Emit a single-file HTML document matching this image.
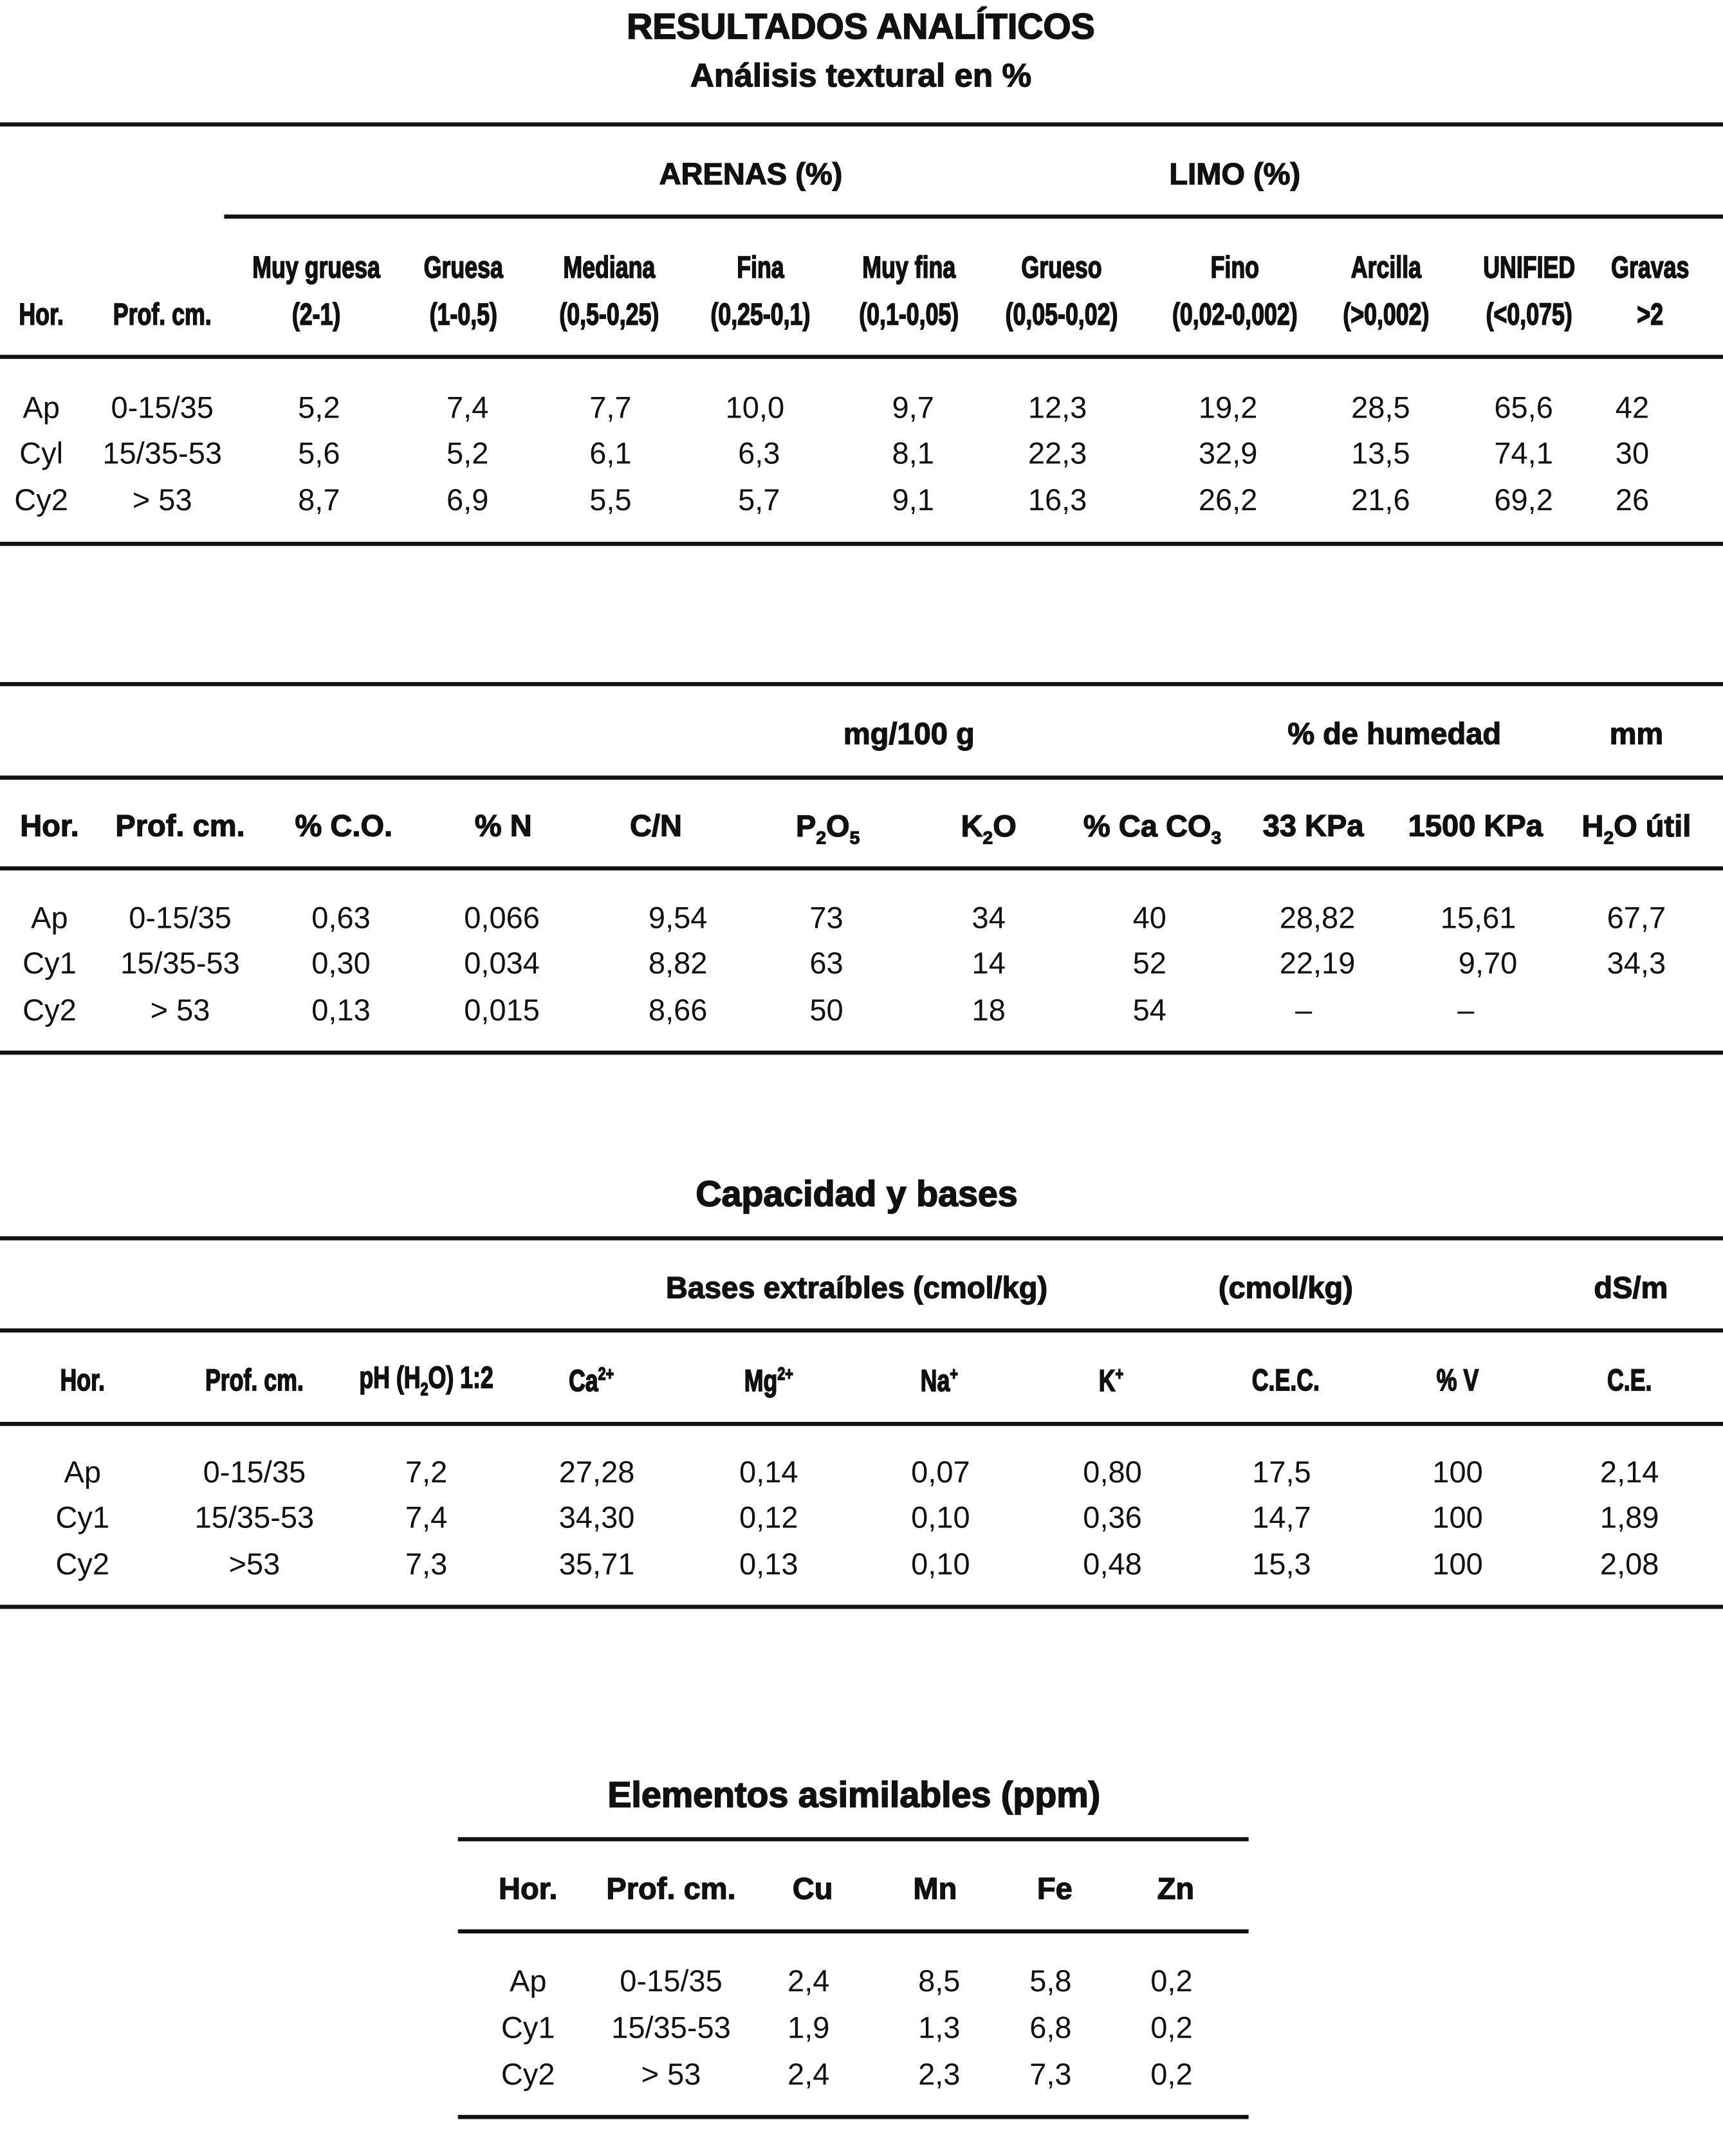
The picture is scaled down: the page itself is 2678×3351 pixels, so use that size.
<!DOCTYPE html>
<html><head><meta charset="utf-8"><style>
html,body{margin:0;padding:0;background:#fff;}
body{width:2678px;height:3350px;overflow:hidden;position:relative;}
#w{position:absolute;left:0;top:0;width:1253px;height:1568px;transform:scale(2.1373);transform-origin:0 0;font-family:"Liberation Sans",sans-serif;color:#111;}
.t{position:absolute;white-space:nowrap;transform:translate(-50%,-50%);line-height:1;}
.d{font-size:22px;}
.h{font-size:22px;font-weight:bold;-webkit-text-stroke:0.6px #111;}
.n{font-size:22px;font-weight:bold;transform:translate(-50%,-50%) scaleX(0.76);-webkit-text-stroke:0.8px #111;}
.ti{font-size:26px;font-weight:bold;-webkit-text-stroke:0.8px #111;}
.l{position:absolute;height:2.5px;background:#111;}
sub,sup{font-size:60%;}
</style></head><body><div id="w">
<div class="t ti" style="left:626px;top:19px">RESULTADOS ANALÍTICOS</div>
<div class="t h" style="left:626px;top:56px;font-size:24px">Análisis textural en %</div>
<div class="l" style="left:0;width:1253px;top:89px"></div>
<div class="t h" style="left:546px;top:127px">ARENAS (%)</div>
<div class="t h" style="left:898px;top:127px">LIMO (%)</div>
<div class="l" style="left:163px;width:1090px;top:156px"></div>
<div class="t n" style="left:230px;top:195px">Muy gruesa</div>
<div class="t n" style="left:337px;top:195px">Gruesa</div>
<div class="t n" style="left:443px;top:195px">Mediana</div>
<div class="t n" style="left:553px;top:195px">Fina</div>
<div class="t n" style="left:661px;top:195px">Muy fina</div>
<div class="t n" style="left:772px;top:195px">Grueso</div>
<div class="t n" style="left:898px;top:195px">Fino</div>
<div class="t n" style="left:1008px;top:195px">Arcilla</div>
<div class="t n" style="left:1112px;top:195px">UNIFIED</div>
<div class="t n" style="left:1200px;top:195px">Gravas</div>
<div class="t n" style="left:30px;top:229px">Hor.</div>
<div class="t n" style="left:118px;top:229px">Prof. cm.</div>
<div class="t n" style="left:230px;top:229px">(2-1)</div>
<div class="t n" style="left:337px;top:229px">(1-0,5)</div>
<div class="t n" style="left:443px;top:229px">(0,5-0,25)</div>
<div class="t n" style="left:553px;top:229px">(0,25-0,1)</div>
<div class="t n" style="left:661px;top:229px">(0,1-0,05)</div>
<div class="t n" style="left:772px;top:229px">(0,05-0,02)</div>
<div class="t n" style="left:898px;top:229px">(0,02-0,002)</div>
<div class="t n" style="left:1008px;top:229px">(&gt;0,002)</div>
<div class="t n" style="left:1112px;top:229px">(&lt;0,075)</div>
<div class="t n" style="left:1200px;top:229px">&gt;2</div>
<div class="l" style="left:0;width:1253px;top:258px"></div>
<div class="t d" style="left:30px;top:297px">Ap</div><div class="t d" style="left:118px;top:297px">0-15/35</div><div class="t d" style="left:232px;top:297px">5,2</div><div class="t d" style="left:340px;top:297px">7,4</div><div class="t d" style="left:444px;top:297px">7,7</div><div class="t d" style="left:549px;top:297px">10,0</div><div class="t d" style="left:664px;top:297px">9,7</div><div class="t d" style="left:769px;top:297px">12,3</div><div class="t d" style="left:893px;top:297px">19,2</div><div class="t d" style="left:1004px;top:297px">28,5</div><div class="t d" style="left:1108px;top:297px">65,6</div><div class="t d" style="left:1187px;top:297px">42</div>
<div class="t d" style="left:30px;top:330px">Cyl</div><div class="t d" style="left:118px;top:330px">15/35-53</div><div class="t d" style="left:232px;top:330px">5,6</div><div class="t d" style="left:340px;top:330px">5,2</div><div class="t d" style="left:444px;top:330px">6,1</div><div class="t d" style="left:552px;top:330px">6,3</div><div class="t d" style="left:664px;top:330px">8,1</div><div class="t d" style="left:769px;top:330px">22,3</div><div class="t d" style="left:893px;top:330px">32,9</div><div class="t d" style="left:1004px;top:330px">13,5</div><div class="t d" style="left:1108px;top:330px">74,1</div><div class="t d" style="left:1187px;top:330px">30</div>
<div class="t d" style="left:30px;top:364px">Cy2</div><div class="t d" style="left:118px;top:364px">&gt; 53</div><div class="t d" style="left:232px;top:364px">8,7</div><div class="t d" style="left:340px;top:364px">6,9</div><div class="t d" style="left:444px;top:364px">5,5</div><div class="t d" style="left:552px;top:364px">5,7</div><div class="t d" style="left:664px;top:364px">9,1</div><div class="t d" style="left:769px;top:364px">16,3</div><div class="t d" style="left:893px;top:364px">26,2</div><div class="t d" style="left:1004px;top:364px">21,6</div><div class="t d" style="left:1108px;top:364px">69,2</div><div class="t d" style="left:1187px;top:364px">26</div>
<div class="l" style="left:0;width:1253px;top:394px"></div>

<div class="l" style="left:0;width:1253px;top:496px"></div>
<div class="t h" style="left:661px;top:534px">mg/100 g</div>
<div class="t h" style="left:1014px;top:534px">% de humedad</div>
<div class="t h" style="left:1190px;top:534px">mm</div>
<div class="l" style="left:0;width:1253px;top:564px"></div>
<div class="t h" style="left:36px;top:601px">Hor.</div><div class="t h" style="left:131px;top:601px">Prof. cm.</div><div class="t h" style="left:250px;top:601px">% C.O.</div><div class="t h" style="left:366px;top:601px">% N</div><div class="t h" style="left:477px;top:601px">C/N</div><div class="t h" style="left:602px;top:603px">P<sub>2</sub>O<sub>5</sub></div><div class="t h" style="left:719px;top:603px">K<sub>2</sub>O</div><div class="t h" style="left:838px;top:603px">% Ca CO<sub>3</sub></div><div class="t h" style="left:955px;top:601px">33 KPa</div><div class="t h" style="left:1073px;top:601px">1500 KPa</div><div class="t h" style="left:1190px;top:603px">H<sub>2</sub>O útil</div>
<div class="l" style="left:0;width:1253px;top:630px"></div>
<div class="t d" style="left:36px;top:668px">Ap</div><div class="t d" style="left:131px;top:668px">0-15/35</div><div class="t d" style="left:248px;top:668px">0,63</div><div class="t d" style="left:365px;top:668px">0,066</div><div class="t d" style="left:493px;top:668px">9,54</div><div class="t d" style="left:601px;top:668px">73</div><div class="t d" style="left:719px;top:668px">34</div><div class="t d" style="left:836px;top:668px">40</div><div class="t d" style="left:958px;top:668px">28,82</div><div class="t d" style="left:1075px;top:668px">15,61</div><div class="t d" style="left:1190px;top:668px">67,7</div>
<div class="t d" style="left:36px;top:701px">Cy1</div><div class="t d" style="left:131px;top:701px">15/35-53</div><div class="t d" style="left:248px;top:701px">0,30</div><div class="t d" style="left:365px;top:701px">0,034</div><div class="t d" style="left:493px;top:701px">8,82</div><div class="t d" style="left:601px;top:701px">63</div><div class="t d" style="left:719px;top:701px">14</div><div class="t d" style="left:836px;top:701px">52</div><div class="t d" style="left:958px;top:701px">22,19</div><div class="t d" style="left:1082px;top:701px">9,70</div><div class="t d" style="left:1190px;top:701px">34,3</div>
<div class="t d" style="left:36px;top:735px">Cy2</div><div class="t d" style="left:131px;top:735px">&gt; 53</div><div class="t d" style="left:248px;top:735px">0,13</div><div class="t d" style="left:365px;top:735px">0,015</div><div class="t d" style="left:493px;top:735px">8,66</div><div class="t d" style="left:601px;top:735px">50</div><div class="t d" style="left:719px;top:735px">18</div><div class="t d" style="left:836px;top:735px">54</div><div class="t d" style="left:948px;top:735px">–</div><div class="t d" style="left:1066px;top:735px">–</div>
<div class="l" style="left:0;width:1253px;top:764px"></div>

<div class="t ti" style="left:623px;top:868px">Capacidad y bases</div>
<div class="l" style="left:0;width:1253px;top:899px"></div>
<div class="t h" style="left:623px;top:937px">Bases extraíbles (cmol/kg)</div>
<div class="t h" style="left:935px;top:937px">(cmol/kg)</div>
<div class="t h" style="left:1186px;top:937px">dS/m</div>
<div class="l" style="left:0;width:1253px;top:966px"></div>
<div class="t n" style="left:60px;top:1004px">Hor.</div><div class="t n" style="left:185px;top:1004px">Prof. cm.</div><div class="t n" style="left:310px;top:1004px">pH (H<sub>2</sub>O) 1:2</div><div class="t n" style="left:430px;top:1004px">Ca<sup>2+</sup></div><div class="t n" style="left:559px;top:1004px">Mg<sup>2+</sup></div><div class="t n" style="left:683px;top:1004px">Na<sup>+</sup></div><div class="t n" style="left:808px;top:1004px">K<sup>+</sup></div><div class="t n" style="left:935px;top:1004px">C.E.C.</div><div class="t n" style="left:1060px;top:1004px">% V</div><div class="t n" style="left:1185px;top:1004px">C.E.</div>
<div class="l" style="left:0;width:1253px;top:1034px"></div>
<div class="t d" style="left:60px;top:1071px">Ap</div><div class="t d" style="left:185px;top:1071px">0-15/35</div><div class="t d" style="left:310px;top:1071px">7,2</div><div class="t d" style="left:434px;top:1071px">27,28</div><div class="t d" style="left:559px;top:1071px">0,14</div><div class="t d" style="left:684px;top:1071px">0,07</div><div class="t d" style="left:809px;top:1071px">0,80</div><div class="t d" style="left:932px;top:1071px">17,5</div><div class="t d" style="left:1060px;top:1071px">100</div><div class="t d" style="left:1185px;top:1071px">2,14</div>
<div class="t d" style="left:60px;top:1104px">Cy1</div><div class="t d" style="left:185px;top:1104px">15/35-53</div><div class="t d" style="left:310px;top:1104px">7,4</div><div class="t d" style="left:434px;top:1104px">34,30</div><div class="t d" style="left:559px;top:1104px">0,12</div><div class="t d" style="left:684px;top:1104px">0,10</div><div class="t d" style="left:809px;top:1104px">0,36</div><div class="t d" style="left:932px;top:1104px">14,7</div><div class="t d" style="left:1060px;top:1104px">100</div><div class="t d" style="left:1185px;top:1104px">1,89</div>
<div class="t d" style="left:60px;top:1138px">Cy2</div><div class="t d" style="left:185px;top:1138px">&gt;53</div><div class="t d" style="left:310px;top:1138px">7,3</div><div class="t d" style="left:434px;top:1138px">35,71</div><div class="t d" style="left:559px;top:1138px">0,13</div><div class="t d" style="left:684px;top:1138px">0,10</div><div class="t d" style="left:809px;top:1138px">0,48</div><div class="t d" style="left:932px;top:1138px">15,3</div><div class="t d" style="left:1060px;top:1138px">100</div><div class="t d" style="left:1185px;top:1138px">2,08</div>
<div class="l" style="left:0;width:1253px;top:1167px"></div>

<div class="t ti" style="left:621px;top:1305px">Elementos asimilables (ppm)</div>
<div class="l" style="left:333px;width:575px;top:1336px"></div>
<div class="t h" style="left:384px;top:1374px">Hor.</div><div class="t h" style="left:488px;top:1374px">Prof. cm.</div><div class="t h" style="left:591px;top:1374px">Cu</div><div class="t h" style="left:680px;top:1374px">Mn</div><div class="t h" style="left:767px;top:1374px">Fe</div><div class="t h" style="left:855px;top:1374px">Zn</div>
<div class="l" style="left:333px;width:575px;top:1403px"></div>
<div class="t d" style="left:384px;top:1441px">Ap</div><div class="t d" style="left:488px;top:1441px">0-15/35</div><div class="t d" style="left:588px;top:1441px">2,4</div><div class="t d" style="left:683px;top:1441px">8,5</div><div class="t d" style="left:764px;top:1441px">5,8</div><div class="t d" style="left:852px;top:1441px">0,2</div>
<div class="t d" style="left:384px;top:1475px">Cy1</div><div class="t d" style="left:488px;top:1475px">15/35-53</div><div class="t d" style="left:588px;top:1475px">1,9</div><div class="t d" style="left:683px;top:1475px">1,3</div><div class="t d" style="left:764px;top:1475px">6,8</div><div class="t d" style="left:852px;top:1475px">0,2</div>
<div class="t d" style="left:384px;top:1509px">Cy2</div><div class="t d" style="left:488px;top:1509px">&gt; 53</div><div class="t d" style="left:588px;top:1509px">2,4</div><div class="t d" style="left:683px;top:1509px">2,3</div><div class="t d" style="left:764px;top:1509px">7,3</div><div class="t d" style="left:852px;top:1509px">0,2</div>
<div class="l" style="left:333px;width:575px;top:1538px"></div>
</div></body></html>
